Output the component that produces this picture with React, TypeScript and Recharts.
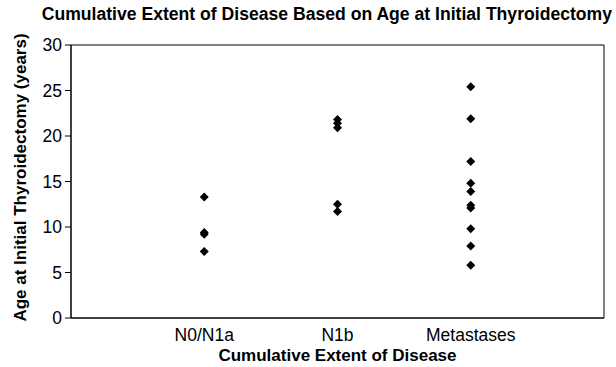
import {
  ScatterChart,
  Scatter,
  XAxis,
  YAxis,
  ReferenceArea,
  Label,
} from "recharts";

const categories = ["N0/N1a", "N1b", "Metastases"];
const n0n1aAges = [13.3, 9.4, 9.2, 7.3];
const n1bAges = [21.8, 21.4, 20.9, 12.5, 11.7];
const metastasesAges = [25.4, 21.9, 17.2, 14.8, 13.9, 12.4, 12.1, 9.8, 7.9, 5.8];
const yTicks = [0, 5, 10, 15, 20, 25, 30];

const FONT = "'Liberation Sans', Arial, sans-serif";

const seriesData = [n0n1aAges, n1bAges, metastasesAges].map((ages, i) =>
  ages.map((age) => ({ x: i + 1, y: age }))
);

const Diamond = (props: any) => {
  const { cx, cy } = props;
  const r = 4.5;
  return (
    <path
      d={`M${cx},${cy - r}L${cx + r},${cy}L${cx},${cy + r}L${cx - r},${cy}Z`}
      fill="#000"
    />
  );
};

export default function App() {
  return (
    <div style={{ position: "absolute", left: 0, top: 0, width: 616, height: 367, background: "#fff", fontFamily: FONT }}>
      <div
        style={{
          position: "absolute",
          right: 4,
          top: 4,
          fontSize: 17.6,
          fontWeight: "bold",
          whiteSpace: "nowrap",
          color: "#000",
        }}
      >
        Cumulative Extent of Disease Based on Age at Initial Thyroidectomy
      </div>
      <ScatterChart
        width={616}
        height={367}
        margin={{ top: 45, right: 12, bottom: 0, left: 0 }}
        style={{ fontFamily: FONT }}
      >
        <XAxis
          type="number"
          dataKey="x"
          domain={[0, 4]}
          ticks={[1, 2, 3]}
          tickFormatter={(v) => categories[v - 1]}
          tickLine={false}
          tickSize={6}
          tickMargin={5}
          height={49}
          axisLine={{ stroke: "#000" }}
          tick={{ fill: "#000", fontSize: 17.5 }}
        >
          <Label
            content={(p: any) => (
              <text
                x={p.viewBox.x + p.viewBox.width / 2}
                y={p.viewBox.y + 43}
                textAnchor="middle"
                fontSize={17}
                fontWeight="bold"
                fill="#000"
              >
                Cumulative Extent of Disease
              </text>
            )}
          />
        </XAxis>
        <YAxis
          type="number"
          dataKey="y"
          domain={[0, 30]}
          ticks={yTicks}
          width={71}
          tickSize={6}
          tickMargin={3}
          axisLine={{ stroke: "#000" }}
          tickLine={{ stroke: "#000" }}
          tick={{ fill: "#000", fontSize: 17.5 }}
        >
          <Label
            content={(p: any) => {
              const x = p.viewBox.x + 26;
              const y = p.viewBox.y + p.viewBox.height / 2 - 4;
              return (
                <text
                  x={x}
                  y={y}
                  transform={`rotate(-90 ${x} ${y})`}
                  textAnchor="middle"
                  fontSize={17}
                  fontWeight="bold"
                  fill="#000"
                >
                  Age at Initial Thyroidectomy (years)
                </text>
              );
            }}
          />
        </YAxis>
        <ReferenceArea
          x1={0}
          x2={4}
          y1={0}
          y2={30}
          fill="none"
          stroke="#000"
          strokeWidth={1}
          ifOverflow="visible"
        />
        {seriesData.map((pts, i) => (
          <Scatter
            key={categories[i]}
            name={categories[i]}
            data={pts}
            shape={Diamond}
            isAnimationActive={false}
          />
        ))}
      </ScatterChart>
    </div>
  );
}
